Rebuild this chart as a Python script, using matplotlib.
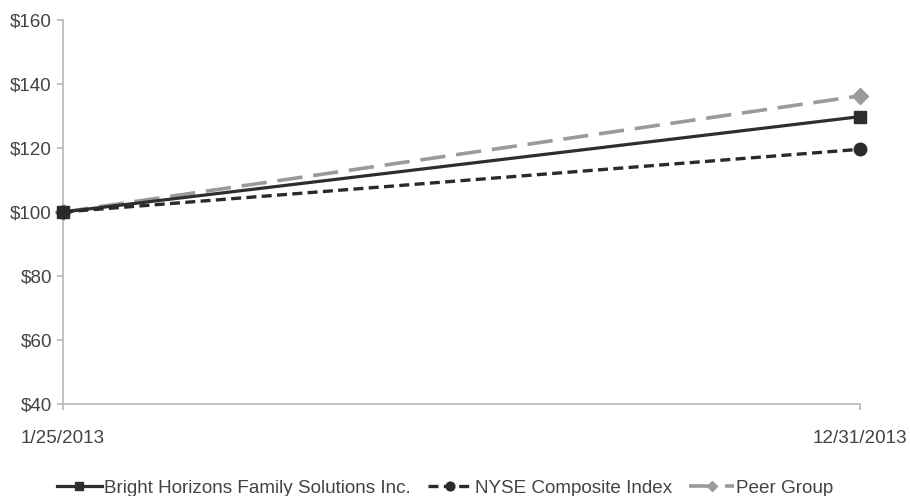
import matplotlib
matplotlib.use("Agg")
import matplotlib.pyplot as plt
from matplotlib.ticker import FuncFormatter

dates = ["1/25/2013", "12/31/2013"]
bright_horizons = [100.0, 129.8]
nyse = [100.0, 119.6]
peer_group = [100.0, 136.3]
y_ticks = [40, 60, 80, 100, 120, 140, 160]

plt.rcParams['font.family'] = ['Liberation Sans', 'DejaVu Sans']

fig = plt.figure(figsize=(9.10, 4.96), dpi=100)
ax = fig.add_axes([63/910, 1-404/496, (860-63)/910, (404-20)/496])

x = list(range(len(dates)))
ax.plot(x, peer_group, color='#9a9a9a', lw=2.6, ls=(0, (7, 3)), marker='D', ms=8,
        label='Peer Group', zorder=2)
ax.plot(x, bright_horizons, color='#2e2e2e', lw=2.3, ls='-', marker='s', ms=8,
        label='Bright Horizons Family Solutions Inc.', zorder=3)
ax.plot(x, nyse, color='#2a2a2a', lw=2.4, ls=(0, (3, 1.6)), marker='o', ms=9,
        label='NYSE Composite Index', zorder=3)

ax.set_xlim(0, 1)
ax.set_ylim(40, 160)
ax.set_yticks(y_ticks)
ax.yaxis.set_major_formatter(FuncFormatter(lambda v, p: f"${v:.0f}"))
ax.set_xticks(x)
ax.set_xticklabels(dates)

for s in ['top', 'right']:
    ax.spines[s].set_visible(False)
for s in ['left', 'bottom']:
    ax.spines[s].set_color('#b8b8b8')
    ax.spines[s].set_linewidth(1.2)
ax.tick_params(axis='both', colors='#b8b8b8', labelcolor='#444444', labelsize=13.6,
               length=4.5, width=1.2)
ax.tick_params(axis='x', pad=14)
ax.tick_params(axis='y', pad=3.5)
for l in ax.lines:
    l.set_clip_on(False)

handles, labels = ax.get_legend_handles_labels()
order = [1, 2, 0]
fig.legend([handles[i] for i in order], [labels[i] for i in order],
           loc='center', bbox_to_anchor=(445/910, 1-488/496), ncol=3, frameon=False,
           fontsize=13.6, handlelength=2.4, handletextpad=0.1, columnspacing=0.9,
           labelcolor='#444444', markerscale=0.7, borderpad=0)

fig.savefig('out.png', dpi=100)
